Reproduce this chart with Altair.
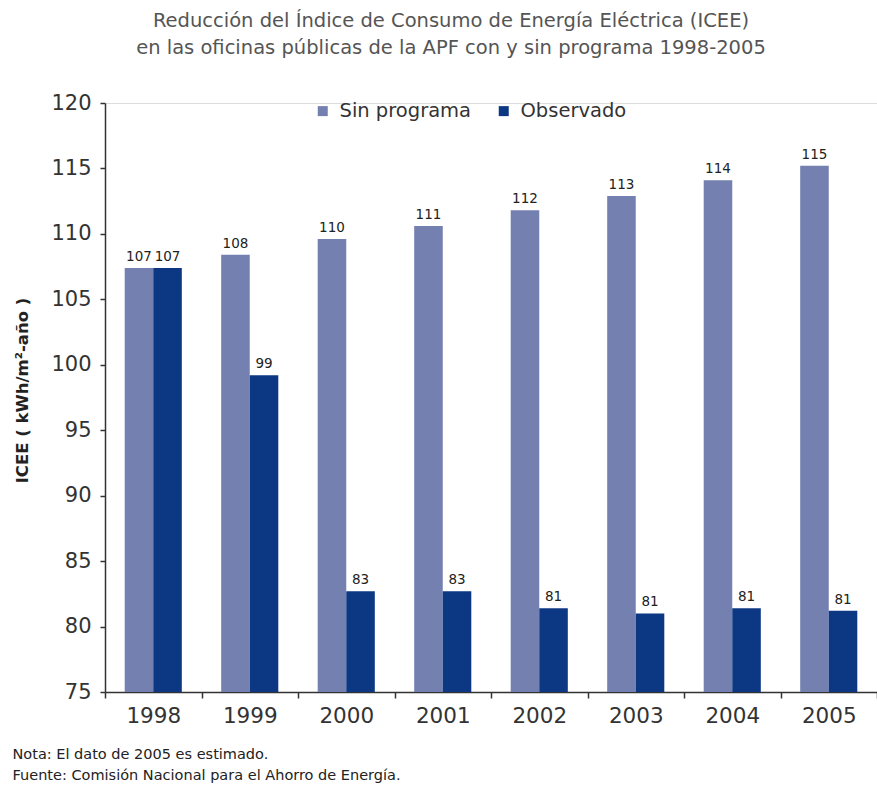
import altair as alt
import pandas as pd

# ICEE per year, with and without the savings programme (kWh/m²-año)
years = ["1998", "1999", "2000", "2001", "2002", "2003", "2004", "2005"]
sin_programa = [107.4, 108.4, 109.6, 110.6, 111.8, 112.9, 114.1, 115.2]
observado = [107.4, 99.2, 82.7, 82.7, 81.4, 81.0, 81.4, 81.2]
series = ["Sin programa", "Observado"]
colors = ["#7480B0", "#0B3783"]

title_lines = [
    "Reducción del Índice de Consumo de Energía Eléctrica (ICEE)",
    "en las oficinas públicas de la APF con y sin programa 1998-2005",
]
notes = [
    "Nota: El dato de 2005 es estimado.",
    "Fuente: Comisión Nacional para el Ahorro de Energía.",
]

rows = []
for yr, a, b in zip(years, sin_programa, observado):
    rows.append({"anio": yr, "serie": series[0], "icee": a})
    rows.append({"anio": yr, "serie": series[1], "icee": b})
df = pd.DataFrame(rows)

FONT = "DejaVu Sans"

x_enc = alt.X(
    "anio:N",
    sort=years,
    scale=alt.Scale(paddingInner=0, paddingOuter=0),
    axis=alt.Axis(
        title=notes,
        titleAnchor="start",
        titleAlign="left",
        titleBaseline="top",
        titleX=-93,
        titleY=55,
        titleFont=FONT,
        titleFontSize=14.5,
        titleFontWeight="normal",
        titleColor="#222222",
        titleLineHeight=21,
        labelAngle=0,
        labelFont=FONT,
        labelFontSize=21.5,
        labelColor="#333333",
        labelPadding=7,
        tickBand="extent",
        tickSize=6,
        tickColor="#333333",
        tickWidth=1.5,
        domainColor="#333333",
        domainWidth=1.5,
    ),
)
xoff = alt.XOffset("serie:N", sort=series, scale=alt.Scale(paddingInner=0, paddingOuter=0.69))
y_scale = alt.Scale(domain=[75, 120], zero=False, nice=False)

bars = alt.Chart(df).mark_bar(clip=True).encode(
    x=x_enc,
    xOffset=xoff,
    y=alt.Y(
        "icee:Q",
        scale=y_scale,
        axis=alt.Axis(
            title="ICEE ( kWh/m²-año )",
            titleFont=FONT,
            titleFontSize=16.5,
            titleFontWeight="bold",
            titleColor="#222222",
            titleX=-83,
            titleY=287,
            titleAlign="center",
            titleBaseline="middle",
            values=[75, 80, 85, 90, 95, 100, 105, 110, 115, 120],
            labelFont=FONT,
            labelFontSize=21,
            labelColor="#333333",
            labelPadding=9,
            tickSize=5,
            tickColor="#333333",
            tickWidth=1.5,
            domainColor="#333333",
            domainWidth=1.5,
            grid=False,
        ),
    ),
    y2=alt.datum(75),
    color=alt.Color(
        "serie:N",
        sort=series,
        scale=alt.Scale(domain=series, range=colors),
        legend=alt.Legend(
            title=None,
            orient="none",
            direction="horizontal",
            legendX=208,
            legendY=-2,
            symbolType="square",
            symbolSize=100,
            symbolStrokeWidth=0,
            labelFont=FONT,
            labelFontSize=19.5,
            labelColor="#333333",
            columnPadding=22,
            labelOffset=7,
        ),
    ),
)

labels = alt.Chart(df).mark_text(
    baseline="bottom", dy=-4, font=FONT, fontSize=13.5, color="#222222"
).encode(
    x=alt.X("anio:N", sort=years),
    xOffset=alt.XOffset("serie:N", sort=series),
    y=alt.Y("icee:Q", scale=y_scale),
    text=alt.Text("icee:Q", format=".0f"),
)

chart = (
    alt.layer(bars, labels)
    .properties(
        width=772,
        height=589,
        autosize=alt.AutoSizeParams(type="none"),
        padding={"left": 105, "top": 103, "right": 0, "bottom": 93},
        title=alt.TitleParams(
            title_lines,
            font=FONT,
            fontSize=19.5,
            fontWeight="normal",
            color="#555555",
            anchor="middle",
            frame="group",
            dx=-40,
            lineHeight=27,
            offset=34,
        ),
    )
    .configure_view(stroke=None)
    .configure(background="white")
)

chart.save("out.html", embed_options={"renderer": "svg", "actions": False})
